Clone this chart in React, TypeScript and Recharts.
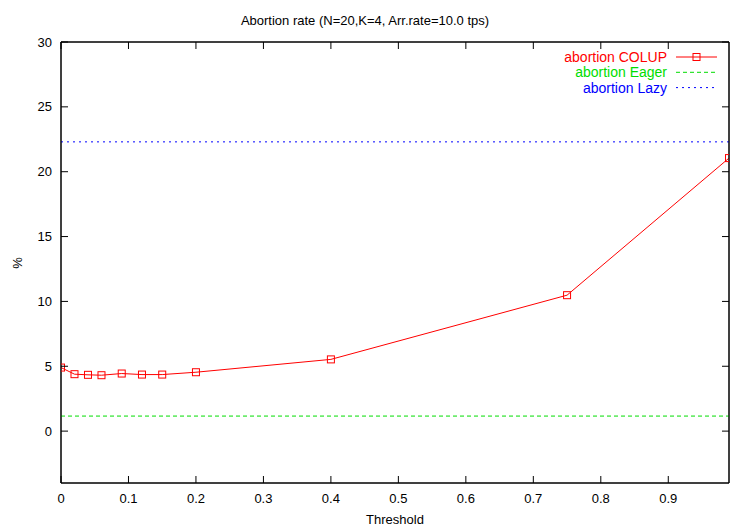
import { Line, LineChart, ReferenceArea, ReferenceLine, XAxis, YAxis } from "recharts"

const thresholds = [0, 0.02, 0.04, 0.06, 0.09, 0.12, 0.15, 0.2, 0.4, 0.75, 0.99]
const colupAbortion = [4.9, 4.39, 4.34, 4.31, 4.44, 4.36, 4.36, 4.54, 5.53, 10.48, 21.05]
const eagerAbortion = 1.16
const lazyAbortion = 22.3

const xTicks = [0, 0.1, 0.2, 0.3, 0.4, 0.5, 0.6, 0.7, 0.8, 0.9]
const yTicks = [0, 5, 10, 15, 20, 25, 30]
const xDomain = [0, 0.99]
const yDomain = [-4, 30]

const seriesNames = ["abortion COLUP", "abortion Eager", "abortion Lazy"]
const seriesColors = ["#ff0000", "#00dd00", "#0000ff"]

const data = thresholds.map((t, i) => ({ threshold: t, colup: colupAbortion[i] }))

const FONT = "'Liberation Sans', Arial, Helvetica, sans-serif"
const TICK_LEN = 7

const BottomTick = ({ x, y, payload }: any) => (
    <g>
        <line x1={x} y1={y} x2={x} y2={y - TICK_LEN} stroke="#000" />
        <text x={x} y={y + 15} textAnchor="middle" dominantBaseline="central" fontSize={13} fontFamily={FONT} fill="#000">
            {payload.value}
        </text>
    </g>
)

const TopTick = ({ x, y }: any) => <line x1={x} y1={y} x2={x} y2={y + TICK_LEN} stroke="#000" />

const LeftTick = ({ x, y, payload }: any) => (
    <g>
        <line x1={x} y1={y} x2={x + TICK_LEN} y2={y} stroke="#000" />
        <text x={x - 9} y={y} textAnchor="end" dominantBaseline="central" fontSize={13} fontFamily={FONT} fill="#000">
            {payload.value}
        </text>
    </g>
)

const RightTick = ({ x, y }: any) => <line x1={x} y1={y} x2={x - TICK_LEN} y2={y} stroke="#000" />

const SquareDot = ({ cx, cy }: any) => (
    <rect x={cx - 3.5} y={cy - 3.5} width={7} height={7} fill="none" stroke="#ff0000" strokeWidth={1} />
)

const dashes = [undefined, "4 3", "2 4"]

// key drawn in the top-right corner of the plot, text right-aligned
const Key = () => (
    <g transform="translate(520 47)">
        {seriesNames.map((name, i) => {
            const cy = 10 + i * 15.3
            return (
                <g key={name}>
                    <text x={147} y={cy} textAnchor="end" dominantBaseline="central" fontSize={14} fontFamily={FONT} fill={seriesColors[i]}>
                        {name}
                    </text>
                    <line x1={156} y1={cy} x2={197} y2={cy} stroke={seriesColors[i]} strokeDasharray={dashes[i]} />
                    {i === 0 && <rect x={173} y={cy - 3.5} width={7} height={7} fill="none" stroke={seriesColors[0]} />}
                </g>
            )
        })}
    </g>
)

const App = () => (
    <div style={{ position: "absolute", left: 0, top: 0, background: "#fff" }}>
        <LineChart width={731} height={527} data={data} margin={{ top: 22, right: 1, left: 0, bottom: 0 }}>
            <XAxis
                dataKey="threshold"
                type="number"
                domain={xDomain}
                ticks={xTicks}
                allowDataOverflow
                height={44}
                tickSize={0}
                tickMargin={0}
                tickLine={false}
                axisLine={{ stroke: "#000" }}
                tick={<BottomTick />}
                interval={0}
            />
            <XAxis
                xAxisId="top"
                orientation="top"
                dataKey="threshold"
                type="number"
                domain={xDomain}
                ticks={xTicks}
                allowDataOverflow
                height={20}
                tickSize={0}
                tickMargin={0}
                tickLine={false}
                axisLine={{ stroke: "#000" }}
                tick={<TopTick />}
                interval={0}
            />
            <YAxis
                type="number"
                domain={yDomain}
                ticks={yTicks}
                width={61}
                tickSize={0}
                tickMargin={0}
                tickLine={false}
                axisLine={{ stroke: "#000" }}
                tick={<LeftTick />}
                interval={0}
            />
            <YAxis
                yAxisId="right"
                orientation="right"
                type="number"
                domain={yDomain}
                ticks={yTicks}
                allowDataOverflow
                width={1}
                tickSize={0}
                tickMargin={0}
                tickLine={false}
                axisLine={{ stroke: "#000" }}
                tick={<RightTick />}
                interval={0}
            />
            {/* plot frame */}
            <ReferenceArea
                x1={xDomain[0]}
                x2={xDomain[1]}
                y1={yDomain[0]}
                y2={yDomain[1]}
                fill="none"
                stroke="#000"
                strokeWidth={1}
                ifOverflow="visible"
            />
            <ReferenceLine y={eagerAbortion} stroke={seriesColors[1]} strokeDasharray={dashes[1]} />
            <ReferenceLine y={lazyAbortion} stroke={seriesColors[2]} strokeDasharray={dashes[2]} />
            {/* invisible copy bound to the mirror axes so their ticks get drawn */}
            <Line
                xAxisId="top"
                yAxisId="right"
                dataKey="colup"
                stroke="none"
                dot={false}
                activeDot={false}
                legendType="none"
                isAnimationActive={false}
            />
            <Line
                dataKey="colup"
                stroke={seriesColors[0]}
                strokeWidth={1}
                dot={<SquareDot />}
                activeDot={false}
                isAnimationActive={false}
            />
            <Key />
            <text x={365} y={20} textAnchor="middle" dominantBaseline="central" fontSize={13} fontFamily={FONT} fill="#000">
                Abortion rate (N=20,K=4, Arr.rate=10.0 tps)
            </text>
            <text x={395} y={519} textAnchor="middle" dominantBaseline="central" fontSize={13} fontFamily={FONT} fill="#000">
                Threshold
            </text>
            <text
                x={17}
                y={263}
                textAnchor="middle"
                dominantBaseline="central"
                fontSize={13}
                fontFamily={FONT}
                fill="#000"
                transform="rotate(-90 17 263)"
            >
                %
            </text>
        </LineChart>
    </div>
)

export default App
